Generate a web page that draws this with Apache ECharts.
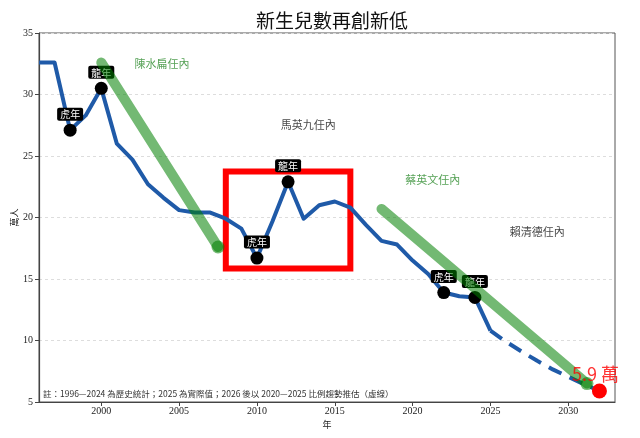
<!DOCTYPE html>
<html>
<head>
<meta charset="utf-8">
<script src="https://cdn.jsdelivr.net/npm/echarts@6/dist/echarts.min.js"></script>
<style>
  html, body { margin: 0; padding: 0; background: #fff; }
  #main { width: 640px; height: 438px; }
</style>
</head>
<body>
<div id="main"></div>
<script>
// births per year (萬人), 1996-2025
var years = [1996, 1997, 1998, 1999, 2000, 2001, 2002, 2003, 2004, 2005,
             2006, 2007, 2008, 2009, 2010, 2011, 2012, 2013, 2014, 2015,
             2016, 2017, 2018, 2019, 2020, 2021, 2022, 2023, 2024, 2025];
var births = [32.6, 32.6, 27.1, 28.3, 30.5, 26.0, 24.7, 22.7, 21.6, 20.6,
              20.4, 20.4, 19.9, 19.1, 16.7, 19.7, 22.9, 19.9, 21.0, 21.3,
              20.8, 19.4, 18.1, 17.8, 16.5, 15.4, 13.9, 13.6, 13.5, 10.8];

// projection (dashed)
var projYears = [2025, 2026, 2027, 2028, 2029, 2030, 2031, 2032];
var projVals = [10.8, 9.9, 9.1, 8.35, 7.65, 7.05, 6.45, 5.9];

// tiger / dragon years
var zodiacYears = [1998, 2000, 2010, 2012, 2022, 2024];
var zodiacTags = ['虎年', '龍年', '虎年', '龍年', '虎年', '龍年'];

// green trend strokes
var trendChen = [[2000, 32.6], [2007.5, 17.6]];
var trendTsai = [[2018, 20.7], [2031.2, 6.5]];

// highlight box (2008-2016)
var boxFrom = [2008, 15.85];
var boxTo = [2016, 23.75];

var termNames = ['陳水扁任內', '馬英九任內', '蔡英文任內', '賴清德任內'];
var termSpots = [[2003.9, 32.5], [2013.3, 27.5], [2021.3, 23.1], [2028.0, 18.8]];
var termColors = ['#2a8a2a', '#111', '#2a8a2a', '#111'];

var lastYear = 2032, lastVal = 5.9;

var xTicks = [2000, 2005, 2010, 2015, 2020, 2025, 2030];

var font = '"Noto Sans CJK TC", "Noto Sans", sans-serif';
var numFont = '"Liberation Serif", "DejaVu Serif", serif';
var blue = '#1f5aa8';
var green = 'rgba(0, 128, 0, 0.55)';

function pairs(xs, ys) {
    return xs.map(function (x, i) { return [x, ys[i]]; });
}

var option = {
    animation: false,
    backgroundColor: '#fff',
    title: {
        text: '新生兒數再創新低',
        left: 327,
        textAlign: 'center',
        top: 6,
        textStyle: { fontFamily: font, fontSize: 19, fontWeight: 'normal', color: '#111' }
    },
    grid: {
        left: 39, right: 25, top: 33, bottom: 36,
        containLabel: false,
        outerBoundsMode: 'none',
        show: true, borderColor: '#555', borderWidth: 1
    },
    graphic: [{
        type: 'text',
        left: 43,
        top: 390,
        style: {
            text: '註：1996—2024 為歷史統計；2025 為實際值；2026 後以 2020—2025 比例趨勢推估（虛線）',
            font: '8.5px ' + font,
            fill: '#333'
        },
        z: 20
    }],
    xAxis: {
        type: 'value',
        min: 1996,
        max: 2033,
        name: '年',
        nameLocation: 'middle',
        nameGap: 18,
        nameMoveOverlap: false,
        nameTextStyle: { fontFamily: font, fontSize: 9, color: '#222' },
        axisLine: { lineStyle: { color: '#444', width: 1.2 } },
        axisTick: { customValues: xTicks, length: 4, lineStyle: { color: '#444' } },
        axisLabel: {
            customValues: xTicks, margin: 4, fontFamily: numFont, fontSize: 10, color: '#222',
            formatter: function (v) { return String(v); }
        },
        splitLine: { show: false }
    },
    yAxis: {
        type: 'value',
        min: 5,
        max: 35,
        interval: 5,
        name: '萬人',
        nameLocation: 'middle',
        nameRotate: 90,
        nameGap: 20,
        nameMoveOverlap: false,
        nameTextStyle: { fontFamily: font, fontSize: 9, color: '#222' },
        axisLine: { show: true, lineStyle: { color: '#444', width: 1.2 } },
        axisTick: { show: true, length: 4, lineStyle: { color: '#444' } },
        axisLabel: { margin: 6, fontFamily: numFont, fontSize: 10, color: '#222' },
        splitLine: { lineStyle: { color: '#ddd', type: [3, 3] } }
    },
    series: [{
        type: 'line',
        data: pairs(years, births),
        symbol: 'none',
        z: 3,
        lineStyle: { color: blue, width: 4, join: 'round' },
        markArea: {
            silent: true,
            itemStyle: { color: 'rgba(0,0,0,0)', borderColor: '#ff0000', borderWidth: 6 },
            data: [[{ coord: boxFrom }, { coord: boxTo }]]
        }
    }, {
        type: 'line',
        data: pairs(projYears, projVals),
        symbol: 'none',
        z: 3,
        lineStyle: { color: blue, width: 4, type: [14, 9] }
    }, {
        type: 'scatter',
        z: 4,
        symbolSize: 13,
        itemStyle: { color: '#000', opacity: 1 },
        data: zodiacYears.map(function (y, i) {
            return { value: [y, births[years.indexOf(y)]], name: zodiacTags[i] };
        }),
        label: {
            show: true,
            position: 'top',
            distance: 3,
            formatter: '{b}',
            fontFamily: font,
            fontSize: 10,
            color: '#fff',
            backgroundColor: '#000',
            padding: [2, 3, 1, 3],
            borderRadius: 2
        }
    }, {
        type: 'line',
        data: trendChen,
        symbol: 'none',
        z: 6,
        lineStyle: { color: green, width: 10, cap: 'round' }
    }, {
        type: 'line',
        data: trendTsai,
        symbol: 'none',
        z: 6,
        lineStyle: { color: green, width: 10, cap: 'round' }
    }, {
        type: 'scatter',
        z: 7,
        symbolSize: 13,
        itemStyle: { color: green, opacity: 1 },
        data: [trendChen[1], trendTsai[1]]
    }, {
        type: 'scatter',
        z: 8,
        symbolSize: 15,
        itemStyle: { color: '#ff0000', opacity: 1 },
        data: [[lastYear, lastVal]]
    }, {
        type: 'scatter',
        z: 9,
        symbolSize: 1,
        itemStyle: { color: 'rgba(0,0,0,0)' },
        data: [{ value: [2030.2, 7.3], name: lastVal + ' 萬' }],
        label: {
            show: true,
            position: 'right',
            distance: 0,
            formatter: '{b}',
            fontFamily: font,
            fontSize: 18,
            color: '#ff0000'
        }
    }, {
        type: 'scatter',
        z: 9,
        symbolSize: 1,
        itemStyle: { color: 'rgba(0,0,0,0)' },
        data: termNames.map(function (n, i) {
            return { value: termSpots[i], name: n, label: { color: termColors[i] } };
        }),
        label: {
            show: true,
            position: 'inside',
            formatter: '{b}',
            fontFamily: font,
            fontSize: 11
        }
    }]
};

var myChart = echarts.init(document.getElementById('main'));
myChart.setOption(option);
</script>
</body>
</html>
